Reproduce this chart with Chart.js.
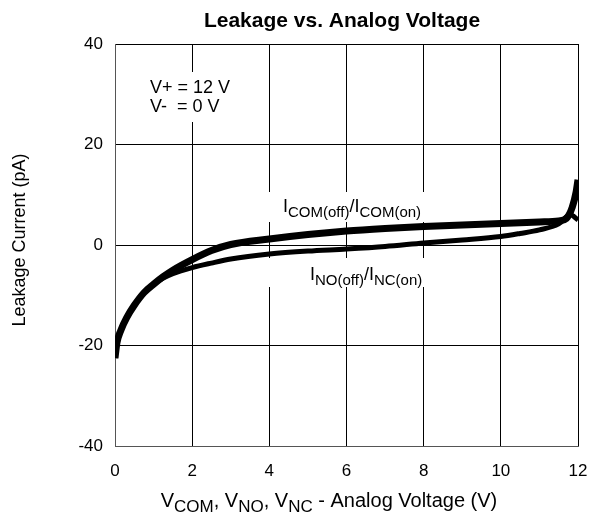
<!DOCTYPE html>
<html><head><meta charset="utf-8">
<script src="https://cdn.jsdelivr.net/npm/chart.js@4.4.1/dist/chart.umd.min.js"></script>
<style>html,body{margin:0;padding:0;background:#fff}</style>
</head><body>
<canvas id="c" width="592" height="516"></canvas>
<script>
const xTicks = [0, 2, 4, 6, 8, 10, 12];
const yTicks = [-40, -20, 0, 20, 40];
const comX = [0, 0.05, 0.15, 0.3, 0.5, 0.75, 1.0, 1.25, 1.5, 2, 2.5, 3, 4, 5, 6, 7, 8, 9, 10, 11, 11.5, 11.7, 11.85, 11.95, 12];
const comY = [-22.5, -19.5, -17, -14.5, -12, -9.5, -7.8, -6.3, -5.0, -2.9, -1.1, 0.1, 1.2, 2.1, 2.8, 3.3, 3.7, 4.0, 4.3, 4.6, 4.8, 5.3, 7.5, 10.5, 13];
const noX = [0, 0.05, 0.15, 0.3, 0.5, 0.75, 1.0, 1.25, 1.5, 2, 2.5, 3, 4, 5, 6, 7, 8, 9, 10, 10.5, 11, 11.5, 11.8, 12];
const noY = [-22.5, -19.5, -17, -14.5, -12, -9.5, -7.8, -6.6, -5.7, -4.5, -3.6, -2.8, -1.8, -1.2, -0.8, -0.3, 0.4, 1.0, 1.7, 2.3, 3.0, 4.2, 6.0, 5.0];
const titleText = 'Leakage vs. Analog Voltage';
const yTitle = 'Leakage Current (pA)';

const toPts = (xs, ys) => xs.map((x, i) => ({x: x, y: ys[i]}));
const FONT = '"Liberation Sans", Arial, sans-serif';

function drawRich(ctx, parts, x, y, align, main, sub) {
  let w = 0;
  parts.forEach(p => { ctx.font = (p[1] ? sub : main) + 'px ' + FONT; w += ctx.measureText(p[0]).width; });
  let cx = align === 'center' ? x - w / 2 : x;
  ctx.textAlign = 'left'; ctx.textBaseline = 'alphabetic';
  parts.forEach(p => {
    ctx.font = (p[1] ? sub : main) + 'px ' + FONT;
    ctx.fillText(p[0], cx, p[1] ? y + 5 : y);
    cx += ctx.measureText(p[0]).width;
  });
}

const textPlugin = {
  id: 'texts',
  beforeDatasetsDraw(chart) {
    const ctx = chart.ctx;
    ctx.save();
    ctx.fillStyle = '#fff';
    ctx.fillRect(140, 72, 100, 50);
    ctx.fillRect(265, 192, 166, 30);
    ctx.fillRect(265, 258, 166, 29);
    ctx.fillStyle = '#000';
    ctx.font = '18px ' + FONT;
    ctx.textAlign = 'left'; ctx.textBaseline = 'alphabetic';
    ctx.fillText('V+ = 12 V', 150, 93);
    ctx.fillText('V-  = 0 V', 150, 112);
    drawRich(ctx, [['I', 0], ['COM(off)', 1], ['/I', 0], ['COM(on)', 1]], 283, 212, 'left', 18, 15);
    drawRich(ctx, [['I', 0], ['NO(off)', 1], ['/I', 0], ['NC(on)', 1]], 310, 280, 'left', 18, 15);
    ctx.restore();
  },
  afterDraw(chart) {
    const ctx = chart.ctx;
    ctx.save();
    ctx.fillStyle = '#000';
    ctx.font = 'bold 21px ' + FONT;
    ctx.textAlign = 'center'; ctx.textBaseline = 'alphabetic';
    ctx.fillText(titleText, 342, 27);
    drawRich(ctx, [['V', 0], ['COM', 1], [', V', 0], ['NO', 1], [', V', 0], ['NC', 1], [' - Analog Voltage (V)', 0]], 329, 507, 'center', 20, 17);
    ctx.translate(25, 240);
    ctx.rotate(-Math.PI / 2);
    ctx.font = '18px ' + FONT;
    ctx.textAlign = 'center';
    ctx.fillText(yTitle, 0, 0);
    ctx.restore();
  }
};

const bgPlugin = {
  id: 'bg',
  beforeDraw(chart) {
    const ctx = chart.ctx;
    ctx.save(); ctx.fillStyle = '#fff'; ctx.fillRect(0, 0, chart.width, chart.height); ctx.restore();
  }
};

new Chart(document.getElementById('c'), {
  type: 'scatter',
  data: {
    datasets: [
      {data: toPts(noX, noY), showLine: true, borderColor: '#000', borderWidth: 5, pointRadius: 0, cubicInterpolationMode: 'monotone', fill: false},
      {data: toPts(comX, comY), showLine: true, borderColor: '#000', borderWidth: 7, pointRadius: 0, cubicInterpolationMode: 'monotone', fill: false}
    ]
  },
  options: {
    responsive: false,
    animation: false,
    devicePixelRatio: 1,
    layout: {padding: {left: 0, right: 0, top: 44, bottom: 0}},
    plugins: {legend: {display: false}, tooltip: {enabled: false}, title: {display: false}},
    scales: {
      x: {
        type: 'linear', min: 0, max: 12,
        afterFit(s) { s.height = 70; s.paddingRight = 14; s.paddingLeft = 0; },
        afterBuildTicks(s) { s.ticks = xTicks.map(v => ({value: v})); },
        grid: {color: '#000', lineWidth: 1, drawTicks: false},
        border: {display: true, color: '#555', width: 1},
        ticks: {color: '#000', font: {family: FONT, size: 17}, padding: 15, maxRotation: 0}
      },
      y: {
        type: 'linear', min: -40, max: 40,
        afterFit(s) { s.width = 115; },
        afterBuildTicks(s) { s.ticks = yTicks.map(v => ({value: v})); },
        grid: {color: '#000', lineWidth: 1, drawTicks: false},
        border: {display: true, color: '#555', width: 1},
        ticks: {color: '#000', font: {family: FONT, size: 17}, padding: 12}
      }
    }
  },
  plugins: [bgPlugin, textPlugin]
});
</script>
</body></html>
